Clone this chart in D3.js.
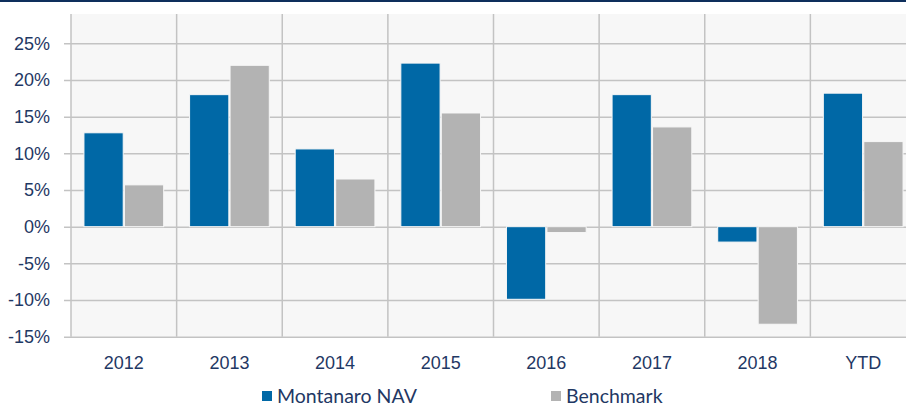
<!DOCTYPE html>
<html>
<head>
<meta charset="utf-8">
<script src="https://cdn.jsdelivr.net/npm/d3@7"></script>
<style>
  body { margin: 0; background: #fff; }
  svg { display: block; font-family: Lato, "Open Sans", sans-serif; }
</style>
</head>
<body>
<div id="chart"></div>
<script>
// data (percent)
const categories = ['2012', '2013', '2014', '2015', '2016', '2017', '2018', 'YTD']
const navValues = [12.8, 18.0, 10.6, 22.3, -9.9, 18.0, -2.1, 18.2]
const benchValues = [5.7, 22.0, 6.5, 15.5, -0.8, 13.6, -13.3, 11.6]
const seriesNames = ['Montanaro NAV', 'Benchmark']
const yTicks = [-15, -10, -5, 0, 5, 10, 15, 20, 25]

const width = 906, height = 407
const textColor = '#1f3864'
const colors = ['#0068a6', '#b3b3b3']

const svg = d3.select('#chart').append('svg')
    .attr('width', width)
    .attr('height', height)

// top navy rule
svg.append('rect')
    .attr('x', 0).attr('y', 0)
    .attr('width', width).attr('height', 2)
    .attr('fill', '#0e2f5c')

const plotLeft = 71, plotRight = 916, plotTop = 14

const x = d3.scaleBand()
    .domain(categories)
    .range([plotLeft, plotRight])

const xSub = d3.scaleBand()
    .domain(seriesNames)
    .range([0, x.bandwidth()])
    .paddingOuter(0.32)
    .paddingInner(0.03)

const y = d3.scaleLinear()
    .domain([-15, 25])
    .range([336.7, 43.3])

// plot background
svg.append('rect')
    .attr('x', plotLeft).attr('y', plotTop)
    .attr('width', plotRight - plotLeft)
    .attr('height', y(-15) - plotTop)
    .attr('fill', '#f7f7f7')

// horizontal gridlines + y labels
const yAxis = svg.append('g')
    .attr('transform', 'translate(64,0)')
    .call(d3.axisLeft(y)
        .tickValues(yTicks)
        .tickSize(-(plotRight - 64))
        .tickPadding(14)
        .tickFormat(d => d + '%'))

yAxis.select('.domain').remove()
yAxis.selectAll('line').attr('stroke', '#c3c3c3').attr('stroke-width', 1.5)
yAxis.selectAll('text')
    .attr('fill', textColor)
    .attr('font-size', 18)

// vertical category separators
svg.append('g')
    .selectAll('line')
    .data(categories)
    .join('line')
    .attr('x1', d => x(d)).attr('x2', d => x(d))
    .attr('y1', plotTop).attr('y2', y(-15))
    .attr('stroke', '#c3c3c3')
    .attr('stroke-width', 1.5)

// bars
const groups = svg.append('g')
    .selectAll('g')
    .data(categories)
    .join('g')
    .attr('transform', d => 'translate(' + x(d) + ',0)')

groups.selectAll('rect')
    .data((d, i) => [
        { key: seriesNames[0], value: navValues[i] },
        { key: seriesNames[1], value: benchValues[i] }
    ])
    .join('rect')
    .attr('x', d => xSub(d.key))
    .attr('width', xSub.bandwidth())
    .attr('y', d => y(Math.max(0, d.value)))
    .attr('height', d => Math.abs(y(d.value) - y(0)))
    .attr('fill', (d, i) => colors[i])
    .attr('stroke', '#f7f7f7')
    .attr('stroke-width', 1)

// x labels
const xAxis = svg.append('g')
    .attr('transform', 'translate(0,' + y(-15) + ')')
    .call(d3.axisBottom(x).tickSize(0).tickPadding(20))

xAxis.select('.domain').remove()
xAxis.selectAll('text')
    .attr('fill', textColor)
    .attr('font-size', 18)

// legend
const legendX = [262, 551]
const legend = svg.append('g')
    .selectAll('g')
    .data(seriesNames)
    .join('g')
    .attr('transform', (d, i) => 'translate(' + legendX[i] + ',391)')

legend.append('rect')
    .attr('width', 10).attr('height', 10)
    .attr('fill', (d, i) => colors[i])

legend.append('text')
    .attr('x', 15).attr('y', 5)
    .attr('dy', '0.35em')
    .attr('fill', textColor)
    .attr('font-size', 19.5)
    .text(d => d)
</script>
</body>
</html>
